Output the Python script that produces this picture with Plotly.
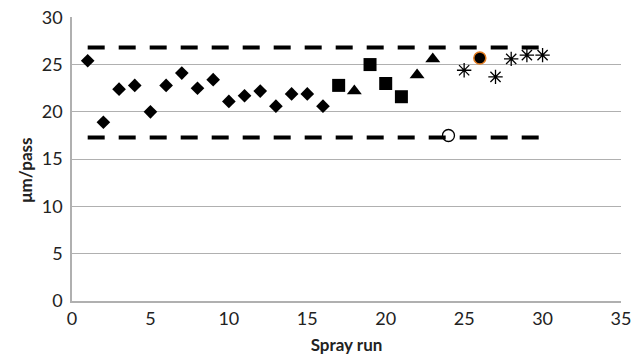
import plotly.graph_objects as go

# Data
diamond_x = [1, 2, 3, 4, 5, 6, 7, 8, 9, 10, 11, 12, 13, 14, 15, 16]
diamond_y = [25.4, 18.9, 22.4, 22.8, 20.0, 22.8, 24.1, 22.5, 23.4, 21.1, 21.7, 22.2, 20.6, 21.9, 21.9, 20.6]
square_x = [17, 19, 20, 21]
square_y = [22.8, 25.0, 23.0, 21.6]
triangle_x = [18, 22, 23]
triangle_y = [22.2, 23.9, 25.6]
star_x = [25, 27, 28, 29, 30]
star_y = [24.4, 23.7, 25.6, 26.0, 26.0]
filled_circle_x = [26]
filled_circle_y = [25.7]
open_circle_x = [24]
open_circle_y = [17.5]
limit_x = [1, 30]
upper_limit = [26.8, 26.8]
lower_limit = [17.3, 17.3]

FONT = "Lato, 'Open Sans', sans-serif"

fig = go.Figure()
for ly in (upper_limit, lower_limit):
    fig.add_trace(go.Scatter(x=limit_x, y=ly, mode="lines",
                             line=dict(color="black", width=4, dash="17px,14px"),
                             showlegend=False, hoverinfo="skip"))

fig.add_trace(go.Scatter(x=diamond_x, y=diamond_y, mode="markers",
                         marker=dict(symbol="diamond", size=10.5, color="black"), showlegend=False))
fig.add_trace(go.Scatter(x=square_x, y=square_y, mode="markers",
                         marker=dict(symbol="square", size=13, color="black"), showlegend=False))
fig.add_trace(go.Scatter(x=triangle_x, y=triangle_y, mode="markers",
                         marker=dict(symbol="triangle-up", size=13, color="black"), showlegend=False))
fig.add_trace(go.Scatter(x=star_x, y=star_y, mode="markers",
                         marker=dict(symbol="asterisk-open", size=12, color="black",
                                     line=dict(color="black", width=1.3)), showlegend=False))
fig.add_trace(go.Scatter(x=filled_circle_x, y=filled_circle_y, mode="markers",
                         marker=dict(symbol="circle", size=12, color="black",
                                     line=dict(color="#e07a1f", width=1.5)), showlegend=False))
fig.add_trace(go.Scatter(x=open_circle_x, y=open_circle_y, mode="markers",
                         marker=dict(symbol="circle-open", size=12, color="black",
                                     line=dict(color="black", width=1.3)), showlegend=False))

fig.update_layout(
    width=632, height=356,
    margin=dict(l=72, r=11, t=17, b=55),
    paper_bgcolor="white", plot_bgcolor="white",
    font=dict(family=FONT, size=18, color="#222"),
    xaxis=dict(range=[0, 35], tickvals=[0, 5, 10, 15, 20, 25, 30, 35],
               showgrid=False, showline=True, linecolor="#b0b0b0", linewidth=1.5,
               ticks="", zeroline=False, automargin=False, ticklabelstandoff=1,
               ticklabeloverflow="allow",
               title=dict(text="<b>Spray run</b>", font=dict(size=17, family=FONT), standoff=11)),
    yaxis=dict(range=[0, 30.03], tickvals=[0, 5, 10, 15, 20, 25, 30],
               showgrid=True, gridcolor="#b0b0b0", gridwidth=1.2,
               showline=True, linecolor="#b0b0b0", linewidth=1.5,
               ticks="", zeroline=False, automargin=False, ticklabelstandoff=4,
               ticklabeloverflow="allow"),
    annotations=[dict(text="<b>μm/pass</b>", textangle=-90, showarrow=False,
                      xref="paper", yref="paper", x=-0.085, y=0.46,
                      xanchor="center", yanchor="middle",
                      font=dict(size=17, family=FONT, color="#222"))],
)

# Remove the browser's default 8px page margin so the figure fills the 632x356 window.
fig.write_html("out.html", config={"displayModeBar": False},
               post_script="document.body.style.margin='0';")
